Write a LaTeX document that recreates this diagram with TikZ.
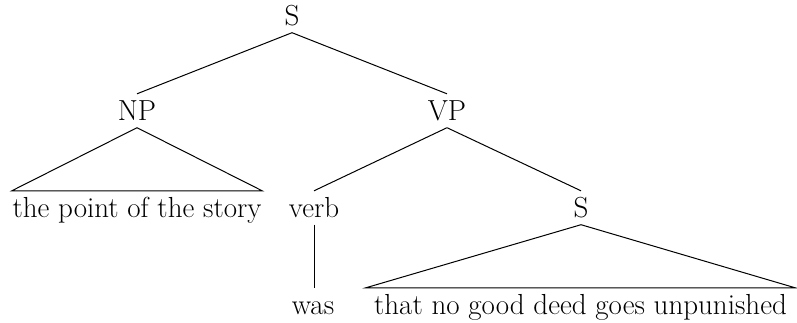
\documentclass[tikz,border=0pt]{standalone}
\usepackage{fontspec}
\begin{document}
\begin{tikzpicture}[x=1pt,y=-1pt,
  every node/.style={font=\fontsize{29}{34}\selectfont},
  lbl/.style={anchor=base, inner ysep=0pt, inner xsep=0pt,
              text height=26pt, text depth=7.5pt},
  branch/.style={line width=1pt},
  roof/.style={line width=1pt, line join=miter}]
  \useasboundingbox (0,0) rectangle (797,322);

  % category labels, placed by baseline
  \node[lbl] (S)   at (292,25)  {S};
  \node[lbl] (NP)  at (137,120) {NP};
  \node[lbl] (VP)  at (447,120) {VP};
  \node[lbl] (V)   at (314,217) {verb};
  \node[lbl] (S2)  at (581,217) {S};

  % leaves; the width of a yield node sets the base of its roof
  \node[lbl, minimum width=250pt] (np-yield) at (137,217) {the point of the story};
  \node[lbl] (was) at (313,314) {was};
  \node[lbl, minimum width=429pt] (s-yield) at (580.5,314) {that no good deed goes unpunished};

  % branches
  \draw[branch] (S.south) -- (NP.north);
  \draw[branch] (S.south) -- (VP.north);
  \draw[branch] (VP.south) -- (V.north);
  \draw[branch] (VP.south) -- (S2.south |- S2.north);
  \draw[branch] (V.south) -- (V.south |- was.north);

  % roofs over unanalysed constituents
  \draw[roof] (NP.south) -- (np-yield.north west) -- (np-yield.north east) -- cycle;
  \draw[roof] (S2.south) -- (s-yield.north west) -- (s-yield.north east) -- cycle;
\end{tikzpicture}
\end{document}
